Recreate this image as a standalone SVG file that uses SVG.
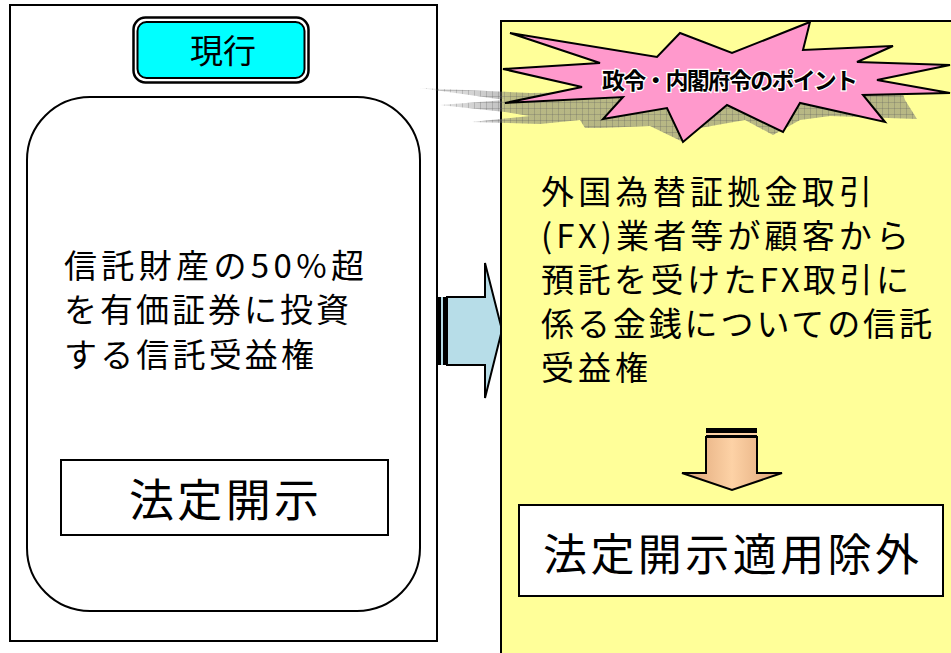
<svg xmlns="http://www.w3.org/2000/svg" width="951" height="653" viewBox="0 0 951 653">
<style>
.jp{font-family:"Noto Sans CJK JP","Noto Sans CJK SC",sans-serif;fill:#000}
.body{font-size:33px}
.box{fill:#fff;stroke:#000;stroke-width:2}
</style>
<defs>
<linearGradient id="shd" gradientUnits="userSpaceOnUse" x1="420" y1="0" x2="520" y2="0">
<stop offset="0" stop-color="#707070" stop-opacity="0.1"/>
<stop offset="1" stop-color="#707070" stop-opacity="0.5"/>
</linearGradient>
<pattern id="grid" width="6" height="6" patternUnits="userSpaceOnUse">
<path d="M0 0.5H6M0.5 0V6" stroke="#606060" stroke-width="0.8" stroke-opacity="0.35" fill="none"/>
</pattern>
<linearGradient id="org" x1="0" y1="0" x2="1" y2="0">
<stop offset="0" stop-color="#dca274"/>
<stop offset="0.5" stop-color="#fdd2a6"/>
<stop offset="1" stop-color="#dca274"/>
</linearGradient>
</defs>
<rect width="951" height="653" fill="#fff"/>

<g id="current">
<rect class="box" x="10" y="5" width="427" height="636"/>
<rect class="box" x="27" y="97" width="393" height="514" rx="63" ry="63"/>
<g id="label-current">
<rect x="133.5" y="17.5" width="175" height="65" rx="12" fill="#fff" stroke="#000" stroke-width="2.5"/>
<rect x="137.5" y="22" width="167" height="56" rx="9" fill="#00ffff" stroke="#000" stroke-width="2"/>
<text class="jp" x="223" y="63" font-size="33" text-anchor="middle">現行</text>
</g>
<text class="jp body" x="64" y="278" textLength="300" lengthAdjust="spacing">信託財産の50%超</text>
<text class="jp body" x="64" y="322" textLength="285" lengthAdjust="spacing">を有価証券に投資</text>
<text class="jp body" x="64" y="367" textLength="250" lengthAdjust="spacing">する信託受益権</text>
<g id="disclosure">
<rect class="box" x="61" y="460" width="327" height="75"/>
<text class="jp" x="224" y="517" font-size="45" text-anchor="middle" textLength="190" lengthAdjust="spacing">法定開示</text>
</g>
</g>

<g id="connectors">
<g id="arrow-right">
<rect x="436" y="297" width="5" height="68" fill="#000"/>
<rect x="441" y="297" width="2" height="68" fill="#b7dde8"/>
<rect x="443" y="297" width="4" height="68" fill="#000"/>
<path d="M447 297H485V263L502 330L485 398V365H447Z" fill="#b7dde8" stroke="#000" stroke-width="2" stroke-linejoin="miter"/>
</g>
</g>

<g id="new">
<rect x="501" y="21" width="470" height="650" fill="#ffff99" stroke="#000" stroke-width="2"/>
<g id="point-burst">
<path d="M420 88L530 93L600 92L640 85L900 85L905 100L917 119L830 116L800 120L773 135L745 120L700 128L683 142L650 126L600 128L585 128L580 120L540 124L472 122L530 116L505 112L440 105L505 100Z" fill="url(#shd)"/>
<path d="M420 88L530 93L600 92L640 85L900 85L905 100L917 119L830 116L800 120L773 135L745 120L700 128L683 142L650 126L600 128L585 128L580 120L540 124L472 122L530 116L505 112L440 105L505 100Z" fill="url(#grid)"/>
<polygon points="510,33 600,63 503,69 582,87 505,103 623,97 603,119 667,108 683,142 727,105 783,132 800,103 885,122 863,95 950,93 877,80 950,65 857,62 893,46 803,50 810,22 732,53 680,33 657,57" fill="#ff99cc" stroke="#000" stroke-width="2" stroke-linejoin="miter"/>
<text class="jp" x="730" y="89" font-size="23" font-weight="bold" text-anchor="middle" textLength="256" lengthAdjust="spacing" stroke="#fff" stroke-width="2.5" paint-order="stroke">政令・内閣府令のポイント</text>
</g>
<text class="jp body" x="541" y="204" textLength="331" lengthAdjust="spacing">外国為替証拠金取引</text>
<text class="jp body" x="541" y="248" textLength="368" lengthAdjust="spacing">(FX)業者等が顧客から</text>
<text class="jp body" x="541" y="292" textLength="368" lengthAdjust="spacing">預託を受けたFX取引に</text>
<text class="jp body" x="541" y="336" textLength="391" lengthAdjust="spacing">係る金銭についての信託</text>
<text class="jp body" x="541" y="380" textLength="107" lengthAdjust="spacing">受益権</text>
<g id="arrow-down">
<rect x="706" y="428" width="51" height="5" fill="#000"/>
<rect x="706" y="433" width="51" height="2" fill="#fdd2a6"/>
<rect x="706" y="435" width="51" height="2" fill="#000"/>
<path d="M706 437H757V473H782L732 490L682 473H706Z" fill="url(#org)" stroke="#000" stroke-width="2"/>
</g>
<g id="exempt">
<rect class="box" x="519" y="505" width="424" height="91"/>
<text class="jp" x="731" y="571" font-size="44" text-anchor="middle" textLength="376" lengthAdjust="spacing">法定開示適用除外</text>
</g>
</g>
</svg>
